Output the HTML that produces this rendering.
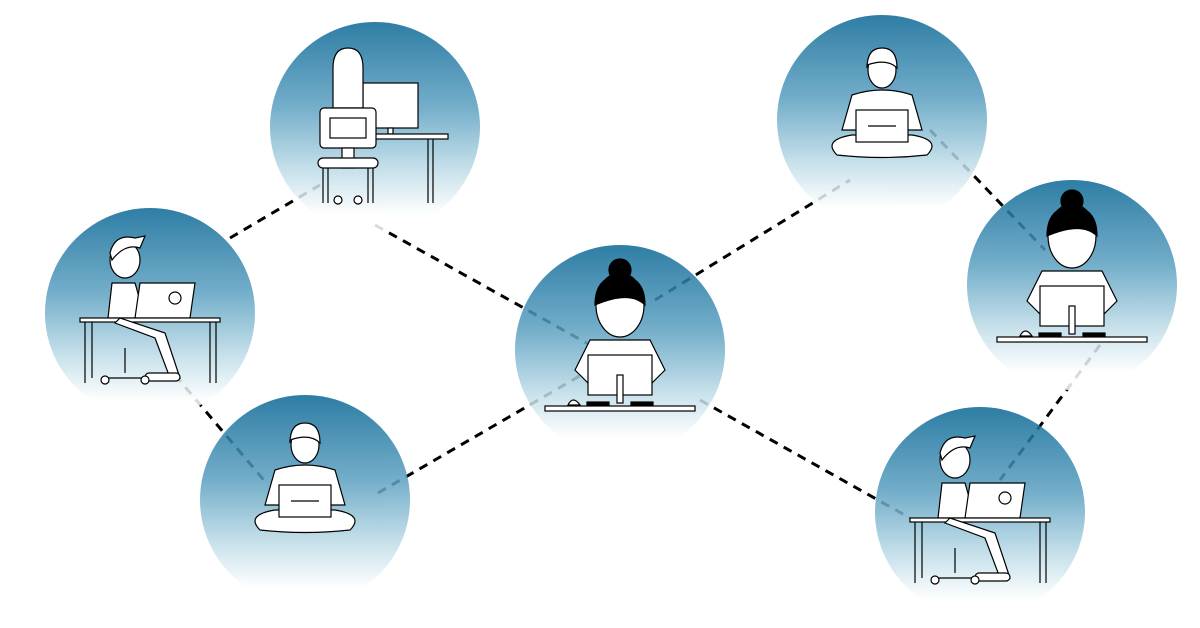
<!DOCTYPE html>
<html><head><meta charset="utf-8"><style>html,body{margin:0;padding:0;background:#fff}svg{display:block}</style></head>
<body>
<svg width="1200" height="628" viewBox="0 0 1200 628" xmlns="http://www.w3.org/2000/svg">
<defs>
<linearGradient id="g" x1="0" y1="0" x2="0" y2="1">
<stop offset="0" stop-color="#0a6795"/>
<stop offset="0.4" stop-color="#5a9fc0"/>
<stop offset="0.7" stop-color="#bcdbe7"/>
<stop offset="0.92" stop-color="#ffffff"/>
</linearGradient>
<g id="wd" stroke="#000" stroke-width="1.2">
<path d="M-45 25 L-30 -5 L30 -5 L45 25 L30 40 L-30 40 Z" fill="#fff"/>
<ellipse cx="0" cy="-40" rx="24" ry="32" fill="#fff"/>
<path d="M-25 -40 Q-25 -68 0 -70 Q25 -68 25 -40 Q10 -55 -25 -40Z" fill="#000"/>
<circle cx="0" cy="-75" r="11" fill="#000"/>
<rect x="-32" y="10" width="64" height="40" fill="#fff"/>
<rect x="-3" y="30" width="6" height="28" fill="#fff"/>
<rect x="-33" y="57" width="22" height="5" fill="#000"/>
<rect x="11" y="57" width="22" height="5" fill="#000"/>
<path d="M-52 60 Q-47 50 -40 60Z" fill="#fff"/>
<rect x="-75" y="61" width="150" height="5" fill="#fff"/>
</g>
<g id="cl" stroke="#000" stroke-width="1.2" fill="#fff">
<path d="M-45 55 Q-60 40 -30 35 L30 35 Q60 40 45 55 Q0 60 -45 55Z"/>
<path d="M-40 30 L-30 -5 Q0 -15 30 -5 L40 30Z"/>
<ellipse cx="0" cy="-30" rx="14" ry="18"/>
<path d="M-15 -32 Q-15 -52 0 -52 Q15 -52 15 -32 Q5 -42 -15 -35Z" fill="#fff"/>
<rect x="-26" y="10" width="52" height="32"/>
<line x1="-14" y1="26" x2="14" y2="26"/>
</g>
<g id="md" stroke="#000" stroke-width="1.2" fill="#fff">
<ellipse cx="-25" cy="-48" rx="15" ry="18"/>
<path d="M-40 -55 Q-35 -75 -15 -70 L-5 -72 L-10 -60 Q-25 -65 -38 -48Z"/>
<path d="M-42 10 L-38 -25 L-15 -25 L-5 10Z"/>
<path d="M-10 -25 L45 -25 L40 10 L-15 10Z"/>
<circle cx="25" cy="-10" r="6"/>
<rect x="-70" y="10" width="140" height="4"/>
<line x1="-65" y1="14" x2="-65" y2="75"/><line x1="-58" y1="14" x2="-58" y2="70"/>
<line x1="60" y1="14" x2="60" y2="75"/><line x1="66" y1="14" x2="66" y2="75"/>
<path d="M-35 15 L5 30 L20 70 L30 70 L15 25 L-30 10Z"/>
<rect x="-5" y="65" width="35" height="8" rx="4"/>
<line x1="-25" y1="40" x2="-25" y2="65"/>
<path d="M-45 70 L-5 70" />
<circle cx="-45" cy="72" r="4"/><circle cx="-5" cy="72" r="4"/>
</g>
<g id="bv" stroke="#000" stroke-width="1.2" fill="#fff">
<rect x="15" y="-45" width="55" height="45"/>
<rect x="40" y="0" width="5" height="6"/>
<rect x="5" y="6" width="95" height="5"/>
<line x1="80" y1="11" x2="80" y2="75"/><line x1="85" y1="11" x2="85" y2="75"/>
<path d="M-15 -60 Q-15 -80 0 -80 Q15 -80 15 -60 L15 -20 L-15 -20Z"/>
<rect x="-28" y="-20" width="56" height="40" rx="4"/>
<rect x="-18" y="-10" width="36" height="20"/>
<rect x="-6" y="20" width="12" height="20"/>
<rect x="-30" y="30" width="60" height="10" rx="5"/>
<line x1="-25" y1="40" x2="-25" y2="75"/><line x1="-20" y1="40" x2="-20" y2="75"/>
<line x1="20" y1="40" x2="20" y2="75"/><line x1="25" y1="40" x2="25" y2="75"/>
<circle cx="-10" cy="72" r="4"/><circle cx="10" cy="72" r="4"/>
</g>
</defs>
<g stroke="#000" stroke-width="3" stroke-dasharray="9,7" fill="none">
<line x1="230" y1="238" x2="320" y2="185"/>
<line x1="375" y1="225" x2="590" y2="345"/>
<line x1="378" y1="493" x2="590" y2="370"/>
<line x1="655" y1="300" x2="850" y2="180"/>
<line x1="930" y1="130" x2="1045" y2="250"/>
<line x1="1100" y1="345" x2="1000" y2="480"/>
<line x1="700" y1="400" x2="910" y2="518"/>
<line x1="175" y1="375" x2="268" y2="485"/>
</g>
<g fill="url(#g)" opacity="0.85">
<circle cx="375" cy="127" r="105"/>
<circle cx="150" cy="313" r="105"/>
<circle cx="305" cy="500" r="105"/>
<circle cx="620" cy="350" r="105"/>
<circle cx="882" cy="120" r="105"/>
<circle cx="1072" cy="285" r="105"/>
<circle cx="980" cy="512" r="105"/>
</g>
<use href="#bv" x="348" y="128"/>
<use href="#md" x="150" y="308"/>
<use href="#cl" x="305" y="475"/>
<use href="#wd" x="620" y="345"/>
<use href="#cl" x="882" y="100"/>
<use href="#wd" x="1072" y="276"/>
<use href="#md" x="980" y="508"/>
</svg>
</body></html>
